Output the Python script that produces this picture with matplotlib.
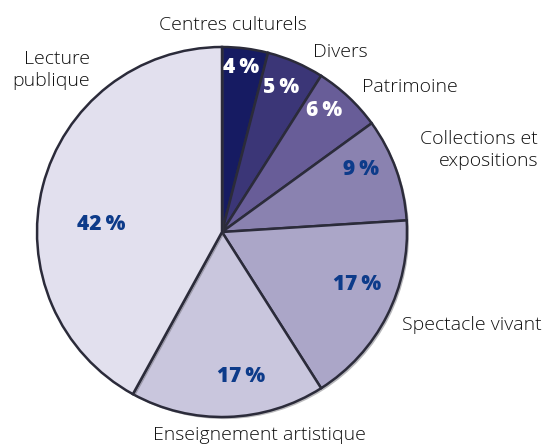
import matplotlib.pyplot as plt
import matplotlib.patheffects as pe

plt.rcParams['font.family'] = ['Open Sans', 'DejaVu Sans']

# données (en %)
categories = ['Centres culturels', 'Divers', 'Patrimoine', 'Collections et\nexpositions',
              'Spectacle vivant', 'Enseignement artistique', 'Lecture\npublique']
values = [4, 5, 6, 9, 17, 17, 42]
colors = ['#161b62', '#3b3677', '#685d98', '#8a82b0', '#aba6c8', '#c9c6dd', '#e2e0ee']
pct_colors = ['white', 'white', 'white', '#0d3b8a', '#0d3b8a', '#0d3b8a', '#0d3b8a']

W, H = 549, 445
cx, cy, R = 222, 232, 185

def px(x, y):
    # pixels -> coordonnees du graphe
    return (x - cx) / R, (cy - y) / R

fig = plt.figure(figsize=(W / 100, H / 100), dpi=100)
ax = fig.add_axes([0, 0, 1, 1])

wedges, _ = ax.pie(values, colors=colors, startangle=90, counterclock=False,
                   radius=1, center=(0, 0),
                   wedgeprops=dict(edgecolor='#2b2b3a', linewidth=1.8))
for w in wedges:
    w.set_path_effects([pe.SimplePatchShadow(offset=(1.5, -1.5), alpha=0.35), pe.Normal()])

ax.set_xlim(-cx / R, (W - cx) / R)
ax.set_ylim(-(H - cy) / R, cy / R)
ax.axis('off')

# étiquettes des pourcentages
pct_pos = [(241, 68), (281, 88), (324, 111), (361, 170), (357, 285), (241, 377), (101, 225)]
for v, (x, y), c in zip(values, pct_pos, pct_colors):
    ax.text(*px(x, y), f'{v}\u2009%', color=c, fontsize=15, fontweight='heavy',
            ha='center', va='center')

# noms des catégories
lab_pos = [(233, 25, 'center'), (313, 52, 'left'), (362, 87, 'left'), (538, 150, 'right'),
           (402, 325, 'left'), (259, 435, 'center'), (90, 70, 'right')]
for name, (x, y, ha) in zip(categories, lab_pos):
    ax.text(*px(x, y), name, color='#111111', fontsize=14, fontweight='light',
            ha=ha, va='center', linespacing=1.35, multialignment=ha)

fig.savefig('out.png', dpi=100)
